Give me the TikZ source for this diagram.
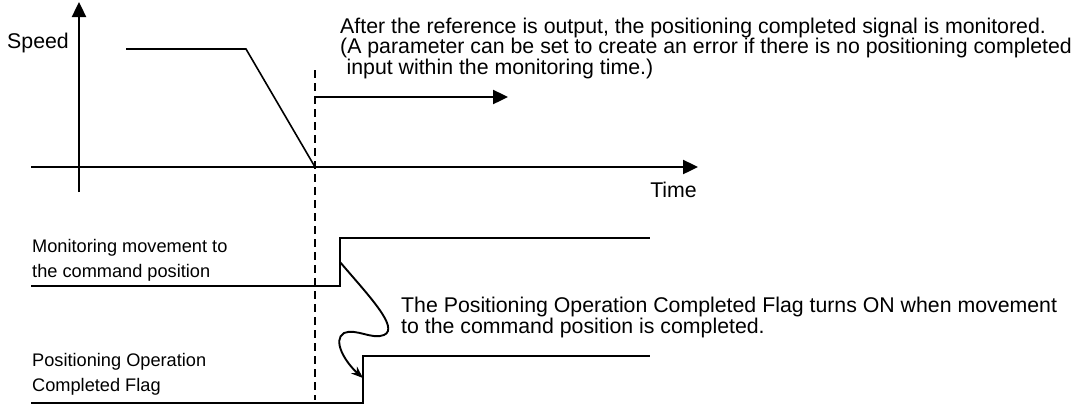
\documentclass[tikz,border=0pt]{standalone}
\usepackage{fontspec}
\setmainfont{Liberation Sans}
\usetikzlibrary{arrows.meta,positioning}

\begin{document}
\begin{tikzpicture}[
    x=1pt, y=-1pt,
    >={Triangle[length=15pt,width=14pt]},
    axis/.style={line width=2.4pt},
    profile/.style={line width=1.6pt},
    signal/.style={line width=1.8pt},
    marker/.style={line width=1.4pt, dash pattern=on 8pt off 5pt},
    note/.style={font=\fontsize{21.3}{20.5}\selectfont, inner sep=0pt, align=left},
    signame/.style={font=\fontsize{18.2}{25}\selectfont, inner sep=0pt, align=left}
]
\useasboundingbox (0,0) rectangle (1084,405);

% speed / time axes
\coordinate (vbot) at (79,192);
\coordinate (vtop) at (79,2);
\coordinate (hleft) at (31,167);
\coordinate (hright) at (698,167);
\draw[axis,->] (vbot) -- (vtop);
\draw[axis,->] (hleft) -- (hright);
\node[note, anchor=east] (speed) at (69,43) {Speed};
\node[note, anchor=east] (time) at (697,190) {Time};

% deceleration to the command position
\draw[profile] (126,49) -- (246,49) -- (315,167);
\draw[marker] (315,70) -- (315,400);

\coordinate (monstart) at (315,97);
\coordinate (monend) at (508,97);
\draw[axis,->] (monstart) -- (monend);
\node[note, anchor=west] (monnote) at (340,48) {After the reference is output, the positioning completed signal is monitored.\\(A parameter can be set to create an error if there is no positioning completed\\\hspace*{0.3em}input within the monitoring time.)};

% signals
\draw[signal] (31,286) -- (340,286) -- (340,238) -- (650,238);
\draw[signal] (31,403) -- (363,403) -- (363,356) -- (650,356);
\node[signame, anchor=west] (monsig) at (32,260.5) {Monitoring movement to\\the command position};
\node[signame, anchor=west] (flagsig) at (32,374.5) {Positioning Operation\\Completed Flag};

\coordinate (monrise) at (340,262);
\coordinate (flagrise) at (363,378);
\draw[line width=1.9pt, -{Stealth[length=12pt,width=9pt]}] (monrise) .. controls (368,295) and (400,328) .. (384,335) .. controls (372,340) and (356,328) .. (344,333) .. controls (332,340) and (345,362) .. (flagrise);
\node[note, anchor=west] (flagnote) at (401,317.5) {The Positioning Operation Completed Flag turns ON when movement\\to the command position is completed.};
\end{tikzpicture}
\end{document}
